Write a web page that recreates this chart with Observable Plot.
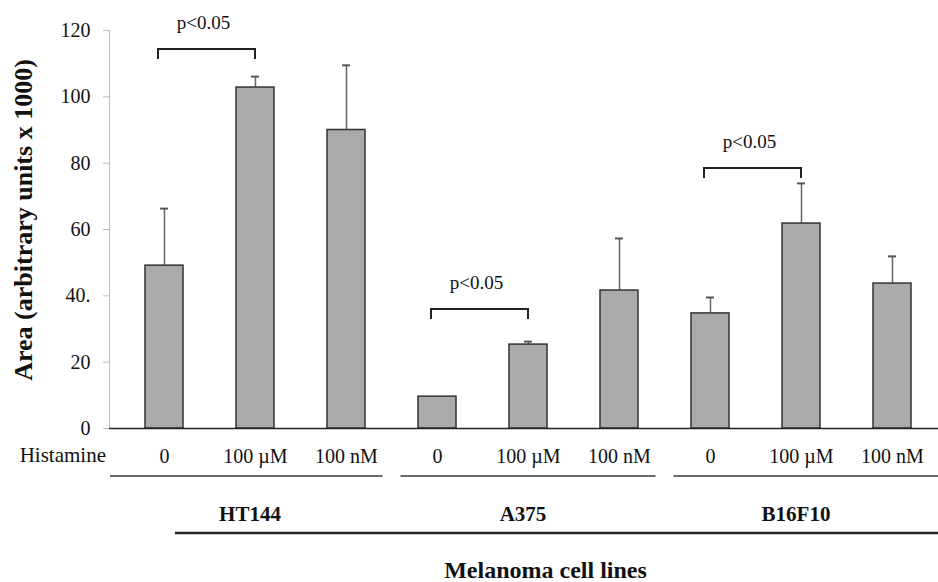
<!DOCTYPE html>
<html><head><meta charset="utf-8">
<script src="https://cdn.jsdelivr.net/npm/d3@7"></script>
<script src="https://cdn.jsdelivr.net/npm/@observablehq/plot@0.6"></script>
<style>
body{margin:0;background:#fff}
svg{display:block}
svg, svg text{font-family:"Liberation Serif","Times New Roman",Tinos,"DejaVu Serif",serif !important;}
</style>
</head><body><div id="chart"></div>
<script>
// ---- data ----
const cellLines = ["HT144", "A375", "B16F10"];
const doses = ["0", "100 µM", "100 nM"];
const means  = [49.1, 102.8, 90.0, 9.6, 25.3, 41.6, 34.7, 61.8, 43.7];
const errors = [17.2, 3.3, 19.5, 0, 0.9, 15.7, 4.8, 12.1, 8.2];
const yTicks = [0, 20, 40, 60, 80, 100, 120];
const yTickLabels = ["0", "20", "40.", "60", "80", "100", "120"];
const compLines = ["HT144", "A375", "B16F10"];
const compTop = [114.3, 35.9, 78.4];
const compLabel = "p<0.05";
const yLabel = "Area (arbitrary units x 1000)";
const xTitle = "Melanoma cell lines";
const rowLabel = "Histamine";

const categories = cellLines.flatMap(c => doses.map(d => c + "|" + d));
const data = categories.map((k, i) => ({key: k, line: k.split("|")[0], dose: k.split("|")[1], mean: means[i], hi: means[i] + errors[i]}));
const errData = data.filter((d, i) => errors[i] > 0);

const chart = Plot.plot({
  width: 938, height: 582,
  marginLeft: 109, marginRight: 0, marginTop: 30, marginBottom: 154,
  style: {background: "#fff", color: "#111"},
  x: {type: "band", domain: categories, range: [109, 947], paddingInner: 0.586, paddingOuter: 0.36, align: 0.5},
  y: {domain: [0, 120]},
  marks: [
    Plot.frame({anchor: "left", stroke: "#bbb"}),
    Plot.axisY({ticks: yTicks, tickFormat: d => yTickLabels[yTicks.indexOf(d)], tickSize: 6, tickPadding: 13, stroke: "#bbb", fill: "#111", fontSize: 20, label: null}),
    Plot.ruleX(errData, {x: "key", y1: "mean", y2: "hi", stroke: "#666", strokeWidth: 1.5}),
    Plot.tickY(errData, {x: "key", y: "hi", stroke: "#555", strokeWidth: 2, insetLeft: 15, insetRight: 15}),
    Plot.barY(data, {x: "key", y: "mean", fill: "#aaaaaa", stroke: "#333", strokeWidth: 1.5}),
    Plot.ruleY([0], {stroke: "#222", strokeWidth: 1.5}),
    Plot.axisX({tickSize: 0, tickPadding: 20, tickFormat: d => d.split("|")[1], fontSize: 20, fill: "#111", label: null}),
    Plot.text([yLabel], {text: d => d, frameAnchor: "left", rotate: -90, dx: -86, dy: -9.5, fontSize: 26, fontWeight: "bold", textAnchor: "middle", fill: "#111"})
  ]
});
document.getElementById("chart").appendChild(chart);

// ---- annotations placed through the plot's own scales ----
const svg = d3.select(chart);
const xs = chart.scale("x"), ys = chart.scale("y");
const cx = k => xs.apply(k) + xs.bandwidth / 2;
const y0 = ys.apply(0);
const left = 109, right = 938;
const g = svg.append("g").attr("fill", "#111");

// significance brackets
compLines.forEach((ln, i) => {
  const x1 = cx(ln + "|" + doses[0]) - 6, x2 = cx(ln + "|" + doses[1]);
  const yt = ys.apply(compTop[i]), yb = yt + 10;
  g.append("path").attr("d", `M${x1},${yb}V${yt}H${x2}V${yb}`)
    .attr("fill", "none").attr("stroke", "#222").attr("stroke-width", 2);
  g.append("text").attr("x", (x1 + x2) / 2 - 3).attr("y", yt - 24)
    .attr("text-anchor", "middle").attr("dominant-baseline", "middle")
    .attr("font-size", 19).text(compLabel);
});

// row label
g.append("text").attr("x", left - 3).attr("y", y0 + 34).attr("text-anchor", "end")
  .attr("font-size", 21).text(rowLabel);

// group underlines and labels
cellLines.forEach((ln, i) => {
  const first = ln + "|" + doses[0], last = ln + "|" + doses[doses.length - 1];
  const gap = xs.step - xs.bandwidth;
  const a = i === 0 ? left + 1 : xs.apply(first) - gap / 2 + 9;
  const b = i === cellLines.length - 1 ? right : xs.apply(last) + xs.bandwidth + gap / 2 - 9;
  g.append("line").attr("x1", a).attr("x2", b).attr("y1", y0 + 48).attr("y2", y0 + 48)
    .attr("stroke", "#333").attr("stroke-width", 1.5);
  g.append("text").attr("x", cx(ln + "|" + doses[1]) - 5).attr("y", y0 + 93)
    .attr("text-anchor", "middle").attr("font-size", 21).attr("font-weight", "bold").text(ln);
});

// long line and title
g.append("line").attr("x1", xs.apply(categories[0]) + xs.bandwidth - 8).attr("x2", right)
  .attr("y1", y0 + 105).attr("y2", y0 + 105).attr("stroke", "#222").attr("stroke-width", 2.5);
g.append("text").attr("x", (left + right) / 2 + 22).attr("y", y0 + 150)
  .attr("text-anchor", "middle").attr("font-size", 24).attr("font-weight", "bold").text(xTitle);
</script>
</body></html>
